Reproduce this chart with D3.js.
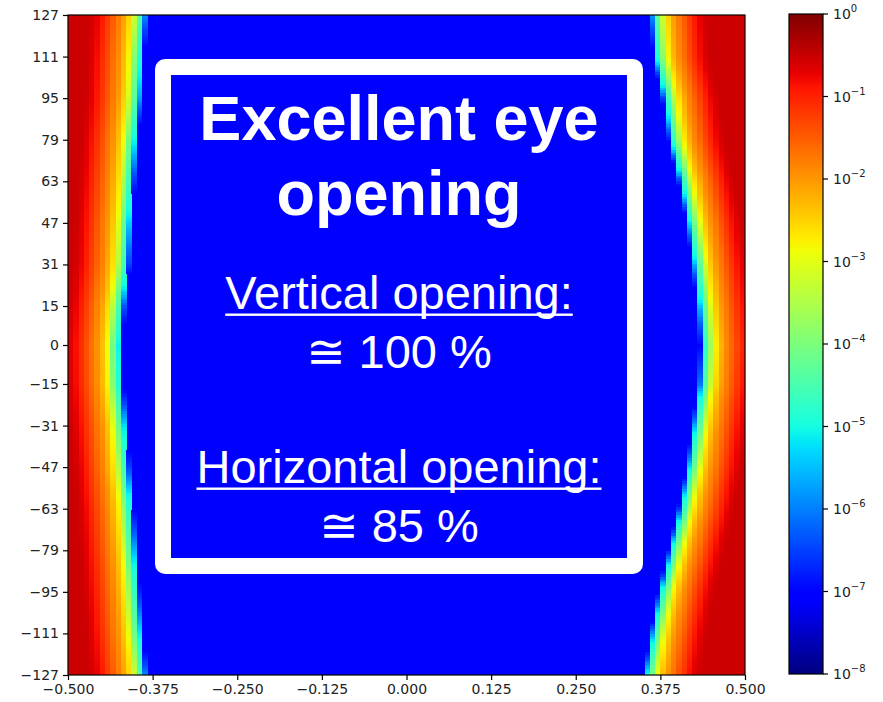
<!DOCTYPE html>
<html><head><meta charset="utf-8">
<script src="https://cdn.jsdelivr.net/npm/d3@7"></script>
<style>html,body{margin:0;padding:0;background:#fff;}svg{display:block;}</style>
</head><body>
<svg id="chart" width="883" height="702"></svg>
<script>
// ---------- data ----------
const xTicks = [-0.5, -0.375, -0.25, -0.125, 0, 0.125, 0.25, 0.375, 0.5];
const xTickLabels = ["\u22120.500","\u22120.375","\u22120.250","\u22120.125","0.000","0.125","0.250","0.375","0.500"];
const yTicks = [127,111,95,79,63,47,31,15,0,-15,-31,-47,-63,-79,-95,-111,-127];
const yTickLabels = ["127","111","95","79","63","47","31","15","0","\u221215","\u221231","\u221247","\u221263","\u221279","\u221295","\u2212111","\u2212127"];
// eye edges (x where the blue eye interior starts) at each tick row
const leftEdge  = [-0.3833,-0.3877,-0.3907,-0.3966,-0.4010,-0.4055,-0.4084,-0.4158,-0.4202,-0.4188,-0.4129,-0.4084,-0.4025,-0.3981,-0.3936,-0.3892,-0.3833];
const rightEdge = [0.3597,0.3641,0.3774,0.3863,0.4010,0.4129,0.4217,0.4291,0.4335,0.4306,0.4217,0.4129,0.4010,0.3863,0.3715,0.3597,0.3493];
// log10 probability vs distance (in columns) outward from the eye edge
const profileDist = [0, 0.3, 0.7, 1.7, 2.7, 3.7, 4.7, 5.7, 6.7, 7.7, 8.7, 9.7, 10.7];
const profileLog  = [-7, -6.3, -5.1, -4.1, -2.9, -2.35, -1.95, -1.7, -1.4, -1.13, -0.85, -0.67, -0.53];
const nCols = 128, nRows = 255;
const cbTicks = [1e0,1e-1,1e-2,1e-3,1e-4,1e-5,1e-6,1e-7,1e-8];
const cbExp = ["0","\u22121","\u22122","\u22123","\u22124","\u22125","\u22126","\u22127","\u22128"];
const texts = {title1:"Excellent eye", title2:"opening", v1:"Vertical opening:", v2:"\u2245 100 %", h1:"Horizontal opening:", h2:"\u2245 85 %"};

// ---------- jet colormap (matplotlib segment data) ----------
const rS = d3.scaleLinear().domain([0,0.35,0.66,0.89,1]).range([0,0,1,1,0.5]).clamp(true);
const gS = d3.scaleLinear().domain([0,0.125,0.375,0.64,0.91,1]).range([0,0,1,1,0,0]).clamp(true);
const bS = d3.scaleLinear().domain([0,0.11,0.34,0.65,1]).range([0.5,1,1,0,0]).clamp(true);
function jet(t){ return d3.rgb(255*rS(t),255*gS(t),255*bS(t)).toString(); }
const logNorm = d3.scaleLinear().domain([-8,0]).range([0,1]).clamp(true);

// ---------- layout ----------
const svg = d3.select("#chart");
const L = 68, R = 745, T = 15, B = 675;
const x = d3.scaleLinear().domain([-0.5,0.5]).range([L,R]);
const y = d3.scaleLinear().domain([-127,127]).range([B,T]);
const leftAt = d3.scaleLinear().domain(yTicks).range(leftEdge);
const rightAt = d3.scaleLinear().domain(yTicks).range(rightEdge);
const profile = d3.scaleLinear().domain(profileDist).range(profileLog).clamp(true);
const colW = 1/nCols, rowH = 254/nRows;

// background (eye interior level)
const g = svg.append("g").attr("shape-rendering","crispEdges");
g.append("rect").attr("x",L).attr("y",T).attr("width",R-L).attr("height",B-T).attr("fill",jet(logNorm(-7)));

const cells = [];
for (let r=0;r<nRows;r++){
  const y0 = -127 + r*rowH, yc = y0 + rowH/2;
  const le = leftAt(yc), re = rightAt(yc);
  for (let c=0;c<nCols;c++){
    const xc = -0.5 + (c+0.5)*colW;
    let v = -7;
    if (xc < le) v = Math.max(v, profile((le-xc)/colW));
    if (xc > re) v = Math.max(v, profile((xc-re)/colW));
    if (v > -7) cells.push({x0:-0.5+c*colW, y0:y0, v:v});
  }
}
g.selectAll("rect.cell").data(cells).enter().append("rect").attr("class","cell")
  .attr("x",d=>x(d.x0)).attr("y",d=>y(d.y0+rowH))
  .attr("width",d=>x(d.x0+colW)-x(d.x0)+0.4).attr("height",d=>y(d.y0)-y(d.y0+rowH)+0.4)
  .attr("fill",d=>jet(logNorm(d.v)));

// ---------- annotation box ----------
svg.append("rect").attr("x",155).attr("y",59).attr("width",488).attr("height",515).attr("rx",10).attr("fill","#fff");
svg.append("rect").attr("x",171).attr("y",75).attr("width",456).attr("height",483).attr("fill",jet(logNorm(-7)));
const cx = 399;
function addText(str, yb, size, weight, underline){
  const t = svg.append("text").attr("x",cx).attr("y",yb).attr("text-anchor","middle")
    .attr("font-family","'Liberation Sans', Arial, 'DejaVu Sans', sans-serif")
    .attr("font-size",size).attr("font-weight",weight).attr("fill","#fff").text(str);
  if (underline){
    const w = t.node().getComputedTextLength();
    svg.append("rect").attr("x",cx-w/2).attr("y",yb+4.5).attr("width",w).attr("height",2.4).attr("fill","#fff");
  }
}
addText(texts.title1,140,63,"bold",false);
addText(texts.title2,215,63,"bold",false);
addText(texts.v1,309,47,"normal",true);
addText(texts.v2,368,47,"normal",false);
addText(texts.h1,483,47,"normal",true);
addText(texts.h2,542,47,"normal",false);

// ---------- axes ----------
const axFont = "'DejaVu Sans', sans-serif";
const xAxis = svg.append("g").attr("transform",`translate(0,${B})`)
  .call(d3.axisBottom(x).tickValues(xTicks).tickFormat((d,i)=>xTickLabels[i]).tickSize(5).tickPadding(4));
const yAxis = svg.append("g").attr("transform",`translate(${L},0)`)
  .call(d3.axisLeft(y).tickValues(yTicks).tickFormat((d,i)=>yTickLabels[i]).tickSize(5).tickPadding(4));
[xAxis,yAxis].forEach(a=>{
  a.selectAll("text").attr("font-family",axFont).attr("font-size",14).attr("fill","#222");
  a.selectAll("line").attr("stroke","#000").attr("stroke-width",1.2);
  a.select(".domain").remove();
});
svg.append("rect").attr("x",L).attr("y",T).attr("width",R-L).attr("height",B-T)
  .attr("fill","none").attr("stroke","#000").attr("stroke-width",1.2);

// ---------- colorbar ----------
const cbX = 789, cbW = 34, cbT = 14, cbB = 674;
const cy = d3.scaleLog().domain([1e-8,1]).range([cbB,cbT]);
const grad = svg.append("defs").append("linearGradient").attr("id","jetg")
  .attr("x1",0).attr("y1",1).attr("x2",0).attr("y2",0);
d3.range(0,1.0001,0.01).forEach(t=>grad.append("stop").attr("offset",t).attr("stop-color",jet(t)));
svg.append("rect").attr("x",cbX).attr("y",cbT).attr("width",cbW).attr("height",cbB-cbT).attr("fill","url(#jetg)")
  .attr("stroke","#000").attr("stroke-width",1.2);
const cbg = svg.append("g");
cbTicks.forEach((v,i)=>{
  const yy = cy(v);
  cbg.append("line").attr("x1",cbX+cbW).attr("x2",cbX+cbW+5).attr("y1",yy).attr("y2",yy).attr("stroke","#000").attr("stroke-width",1.2);
  const t = cbg.append("text").attr("x",cbX+cbW+10).attr("y",yy+5).attr("font-family",axFont).attr("font-size",14).attr("fill","#222");
  t.append("tspan").text("10");
  t.append("tspan").attr("dy",-7).attr("font-size",10).text(cbExp[i]);
});
</script>
</body></html>
